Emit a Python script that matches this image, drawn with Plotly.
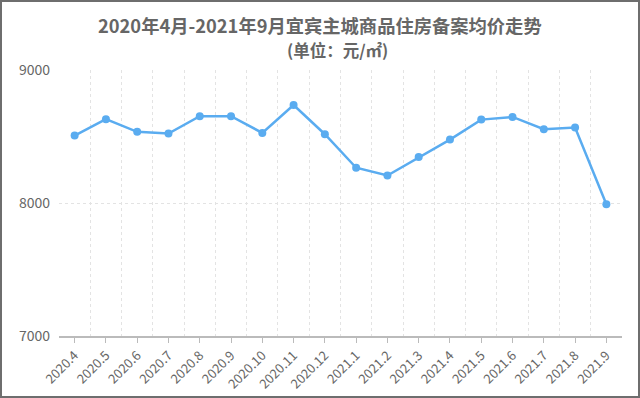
import plotly.graph_objects as go

months = ["2020.4", "2020.5", "2020.6", "2020.7", "2020.8", "2020.9", "2020.10",
          "2020.11", "2020.12", "2021.1", "2021.2", "2021.3", "2021.4", "2021.5",
          "2021.6", "2021.7", "2021.8", "2021.9"]
prices = [8507, 8630, 8535, 8522, 8653, 8653, 8527, 8737, 8517, 8265, 8207,
          8345, 8477, 8627, 8647, 8555, 8567, 7990]
y_ticks = [7000, 8000, 9000]

title_text = "2020年4月-2021年9月宜宾主城商品住房备案均价走势"
subtitle_text = "(单位：元/㎡)"

W, H = 640, 398
ML, MR, MT, MB = 59, 18, 70, 62
pw, ph = W - ML - MR, H - MT - MB

idx = list(range(len(months)))
font = "Noto Sans CJK SC, Noto Sans, sans-serif"
gray = "#666666"

fig = go.Figure()
fig.add_trace(go.Scatter(
    x=idx, y=prices, mode="lines+markers",
    line=dict(color="#5aacf0", width=2.5),
    marker=dict(color="#5aacf0", size=8),
    hoverinfo="skip", showlegend=False,
))

# title / subtitle centres in pixels (x, y)
title_pos = (320, 25)
subtitle_pos = (337, 50)

fig.update_layout(
    width=W, height=H,
    margin=dict(l=ML, r=MR, t=MT, b=MB, autoexpand=False),
    paper_bgcolor="white", plot_bgcolor="white",
    font=dict(family=font, color=gray, size=13),
    xaxis=dict(
        range=[-0.5, len(months) - 0.5],
        tickvals=idx, ticktext=months, tickangle=-45,
        tickfont=dict(size=13, color=gray),
        showgrid=False, zeroline=False, automargin=False,
        ticks="outside", ticklen=5, tickcolor="#bbbbbb",
        showline=True, linecolor="#bbbbbb", linewidth=1.5,
        minor=dict(tickvals=[i + 0.5 for i in idx[:-1]], showgrid=True,
                   gridcolor="#e3e3e3", griddash="dot", gridwidth=1, ticks=""),
    ),
    yaxis=dict(
        range=[y_ticks[0], y_ticks[-1]], tickvals=y_ticks,
        tickfont=dict(size=14, color=gray), automargin=False,
        showgrid=True, gridcolor="#e3e3e3", griddash="3px,3px", gridwidth=1,
        zeroline=False, showline=False, ticks="", ticklabelstandoff=8,
    ),
    annotations=[
        dict(text="<b>" + title_text + "</b>",
             x=(title_pos[0] - ML) / pw, y=1 + (MT - title_pos[1]) / ph,
             xref="paper", yref="paper", xanchor="center", yanchor="middle",
             showarrow=False, font=dict(size=18.3, color=gray, family=font)),
        dict(text="<b>" + subtitle_text + "</b>",
             x=(subtitle_pos[0] - ML) / pw, y=1 + (MT - subtitle_pos[1]) / ph,
             xref="paper", yref="paper", xanchor="center", yanchor="middle",
             showarrow=False, font=dict(size=16.5, color=gray, family=font)),
    ],
    shapes=[dict(type="rect", xref="paper", yref="paper",
                 x0=(1 - ML) / pw, x1=1 + (MR - 1) / pw,
                 y0=-(MB - 1) / ph, y1=1 + (MT - 1) / ph,
                 line=dict(color="#6e6e6e", width=2), fillcolor="rgba(0,0,0,0)", layer="below")],
)

fig.write_html("out.html", config={"displayModeBar": False},
               post_script="document.body.style.margin='0';document.body.style.overflow='hidden';")
